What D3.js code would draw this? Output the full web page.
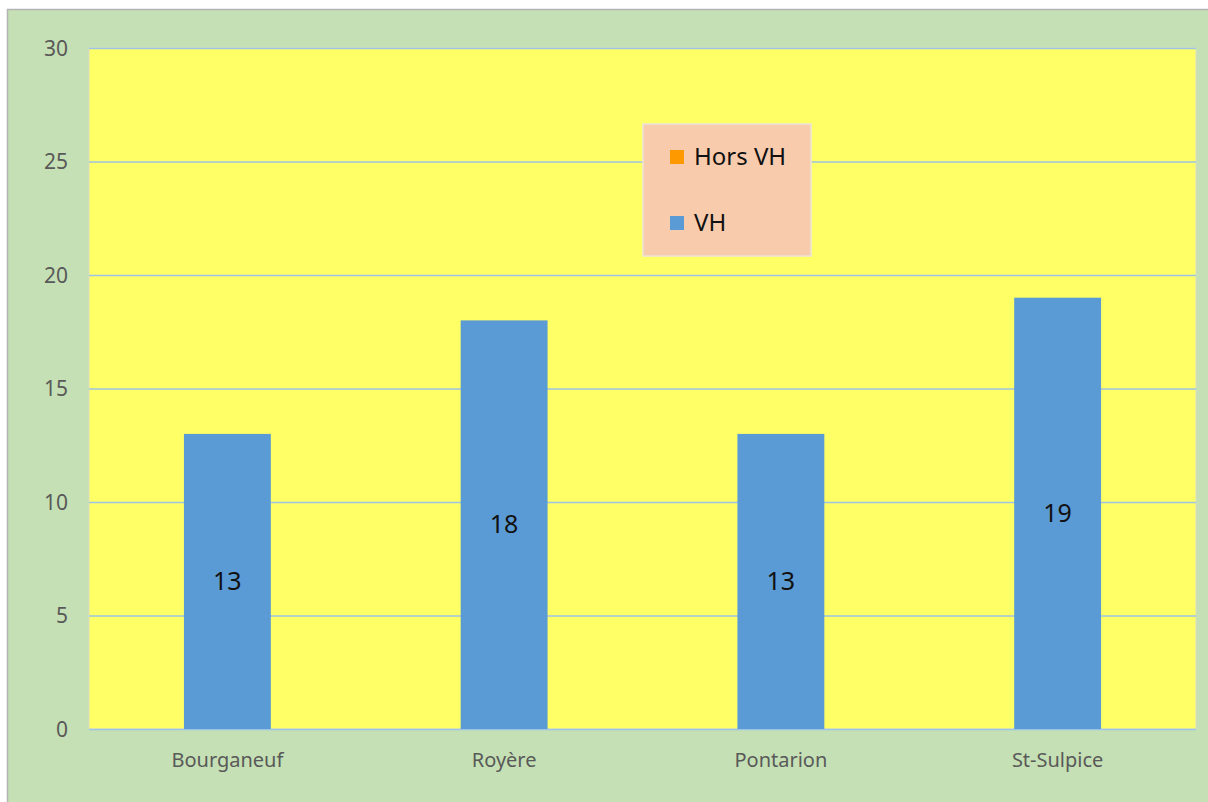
<!DOCTYPE html>
<html>
<head>
<meta charset="utf-8">
<script src="https://cdn.jsdelivr.net/npm/d3@7"></script>
<style>
  html, body { margin: 0; padding: 0; background: #fff; }
  svg { display: block; }
</style>
</head>
<body>
<svg id="chart" width="1208" height="802"></svg>
<script>
// data
var categories = ["Bourganeuf", "Royère", "Pontarion", "St-Sulpice"];
var vhValues = [13, 18, 13, 19];
var horsVhValues = [0, 0, 0, 0];
var yTicks = [0, 5, 10, 15, 20, 25, 30];
var legendItems = [
    { name: "Hors VH", color: "#ff9900" },
    { name: "VH", color: "#5b9bd5" }
];

var svg = d3.select("#chart"),
    font = "'Noto Sans', 'Open Sans', sans-serif";

// chart background with its grey frame
svg.append("rect")
    .attr("x", 7.5).attr("y", 9.5)
    .attr("width", 1210).attr("height", 800)
    .attr("fill", "#c5e0b4")
    .attr("stroke", "#b4b4b4")
    .attr("stroke-width", 1.5);

var plot = { left: 89, top: 48, right: 1196, bottom: 729 };

var x = d3.scaleBand()
    .domain(categories)
    .range([plot.left, plot.right])
    .paddingInner(0.686)
    .paddingOuter(0.343);

var y = d3.scaleLinear()
    .domain([0, 30])
    .range([plot.bottom, plot.top]);

// plot area
svg.append("rect")
    .attr("x", plot.left).attr("y", plot.top)
    .attr("width", plot.right - plot.left)
    .attr("height", plot.bottom - plot.top)
    .attr("fill", "#ffff66")
    .attr("stroke", "#dcdcc8")
    .attr("stroke-width", 1);

// gridlines
svg.append("g")
    .selectAll("line")
    .data(yTicks)
    .join("line")
    .attr("x1", plot.left).attr("x2", plot.right)
    .attr("y1", function (d) { return y(d) + 0.5; })
    .attr("y2", function (d) { return y(d) + 0.5; })
    .attr("stroke", "#9dc3e6")
    .attr("stroke-width", 1.3);

// y axis labels
var yAxis = svg.append("g")
    .attr("transform", "translate(" + (plot.left - 21) + ",0)")
    .call(d3.axisLeft(y).tickValues(yTicks).tickSize(0).tickPadding(0));
yAxis.select(".domain").remove();
yAxis.selectAll("text")
    .attr("font-family", font)
    .attr("font-size", 21)
    .attr("fill", "#595959")
    .attr("dy", "0.35em");

// x axis labels
var xAxis = svg.append("g")
    .attr("transform", "translate(0," + plot.bottom + ")")
    .call(d3.axisBottom(x).tickSize(0).tickPadding(24));
xAxis.select(".domain").remove();
xAxis.selectAll("text")
    .attr("font-family", font)
    .attr("font-size", 20)
    .attr("fill", "#595959");

// stacked bars (VH at bottom, Hors VH on top)
var bars = svg.append("g");
bars.selectAll("rect.vh")
    .data(categories)
    .join("rect")
    .attr("class", "vh")
    .attr("x", function (d) { return x(d); })
    .attr("width", x.bandwidth())
    .attr("y", function (d, i) { return y(vhValues[i]); })
    .attr("height", function (d, i) { return y(0) - y(vhValues[i]); })
    .attr("fill", "#5b9bd5");

bars.selectAll("rect.hors")
    .data(categories)
    .join("rect")
    .attr("class", "hors")
    .attr("x", function (d) { return x(d); })
    .attr("width", x.bandwidth())
    .attr("y", function (d, i) { return y(vhValues[i] + horsVhValues[i]); })
    .attr("height", function (d, i) { return y(vhValues[i]) - y(vhValues[i] + horsVhValues[i]); })
    .attr("fill", "#ff9900");

// value labels in the middle of each bar
bars.selectAll("text")
    .data(categories)
    .join("text")
    .attr("x", function (d) { return x(d) + x.bandwidth() / 2; })
    .attr("y", function (d, i) { return y(vhValues[i] / 2); })
    .attr("dy", "0.35em")
    .attr("text-anchor", "middle")
    .attr("font-family", font)
    .attr("font-size", 25)
    .attr("fill", "#111")
    .text(function (d, i) { return vhValues[i]; });

// legend
var legend = svg.append("g").attr("transform", "translate(643,124)");
legend.append("rect")
    .attr("width", 168).attr("height", 132)
    .attr("fill", "#f8cbad")
    .attr("stroke", "#ece3da")
    .attr("stroke-width", 1.5);

var item = legend.selectAll("g.item")
    .data(legendItems)
    .join("g")
    .attr("class", "item")
    .attr("transform", function (d, i) { return "translate(27," + (26 + i * 66) + ")"; });
item.append("rect")
    .attr("width", 14).attr("height", 14)
    .attr("fill", function (d) { return d.color; });
item.append("text")
    .attr("x", 24).attr("y", 7)
    .attr("dy", "0.35em")
    .attr("font-family", font)
    .attr("font-size", 24)
    .attr("fill", "#111")
    .text(function (d) { return d.name; });
</script>
</body>
</html>
